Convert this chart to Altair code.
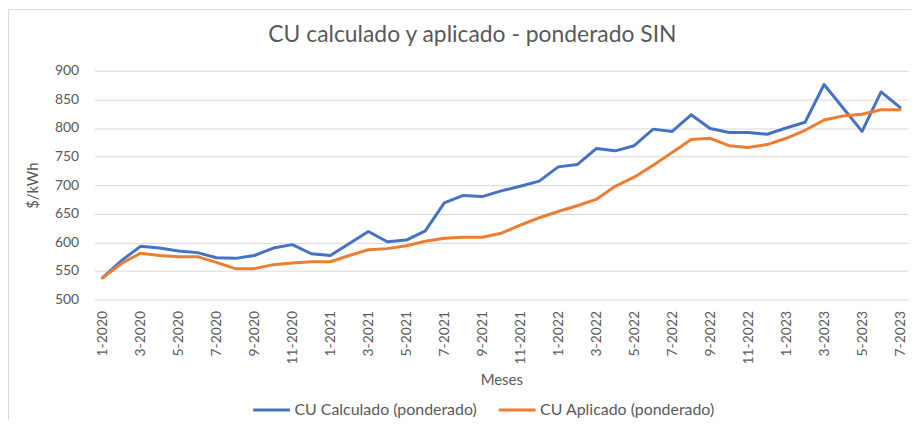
import altair as alt
import pandas as pd

meses = [
    "1-2020", "2-2020", "3-2020", "4-2020", "5-2020", "6-2020", "7-2020", "8-2020", "9-2020", "10-2020", "11-2020", "12-2020",
    "1-2021", "2-2021", "3-2021", "4-2021", "5-2021", "6-2021", "7-2021", "8-2021", "9-2021", "10-2021", "11-2021", "12-2021",
    "1-2022", "2-2022", "3-2022", "4-2022", "5-2022", "6-2022", "7-2022", "8-2022", "9-2022", "10-2022", "11-2022", "12-2022",
    "1-2023", "2-2023", "3-2023", "4-2023", "5-2023", "6-2023", "7-2023",
]

cu_calculado = [
    538, 568, 593, 590, 585, 582, 573, 572, 577, 590, 596, 580,
    577, 598, 619, 601, 604, 620, 669, 682, 680, 690, 698, 707,
    732, 736, 764, 760, 769, 798, 794, 823, 799, 792, 792, 789,
    800, 810, 876, 835, 794, 863, 836,
]

cu_aplicado = [
    538, 563, 581, 577, 575, 575, 565, 554, 554, 561, 564, 566,
    566, 577, 587, 589, 594, 602, 607, 609, 609, 616, 630, 643,
    654, 664, 675, 698, 714, 735, 757, 780, 782, 769, 766, 771,
    782, 796, 814, 821, 824, 832, 832,
]

series = ["CU Calculado (ponderado)", "CU Aplicado (ponderado)"]
colores = ["#4472C4", "#ED7D31"]
y_ticks = [500, 550, 600, 650, 700, 750, 800, 850, 900]

df = pd.DataFrame(
    {
        "mes": meses * 2,
        "valor": cu_calculado + cu_aplicado,
        "serie": [series[0]] * len(meses) + [series[1]] * len(meses),
        "orden": list(range(len(meses))) * 2,
    }
)

GRAY = "#595959"
GRID = "#d9d9d9"

border = alt.Chart(alt.Data(values=[{}])).mark_rect(
    fill="transparent", stroke=GRID, strokeWidth=1
).encode(
    x=alt.value(-86.5), x2=alt.value(900), y=alt.value(-61.5), y2=alt.value(500)
)

lines = alt.Chart(df).mark_line(strokeWidth=3, strokeJoin="round", strokeCap="round").encode(
    x=alt.X(
        "mes:O",
        sort=meses,
        scale=alt.Scale(type="point", padding=0.42),
        axis=alt.Axis(
            values=meses[::2],
            labelAngle=-90,
            labelPadding=11,
            labelFontSize=14,
            labelColor=GRAY,
            ticks=False,
            domain=False,
            grid=False,
            title="Meses",
            titleFontSize=15,
            titleFontWeight="normal",
            titleColor=GRAY,
            titlePadding=9,
        ),
    ),
    y=alt.Y(
        "valor:Q",
        scale=alt.Scale(domain=[500, 900], nice=False, zero=False),
        axis=alt.Axis(
            values=y_ticks,
            labelFontSize=14,
            labelColor=GRAY,
            labelPadding=16,
            ticks=False,
            domain=False,
            grid=True,
            gridColor=GRID,
            gridWidth=1,
            title="$/kWh",
            titleFontSize=15,
            titleFontWeight="normal",
            titleColor=GRAY,
            titlePadding=14,
        ),
    ),
    color=alt.Color(
        "serie:N",
        sort=series,
        scale=alt.Scale(domain=series, range=colores),
        legend=alt.Legend(
            orient="none",
            legendX=158,
            legendY=321,
            direction="horizontal",
            title=None,
            symbolType="stroke",
            symbolSize=1369,
            symbolStrokeWidth=3,
            labelFontSize=16,
            labelColor=GRAY,
            labelOffset=3,
            labelLimit=400,
            columnPadding=15,
        ),
    ),
    order=alt.Order("orden:Q"),
)

chart = (
    alt.layer(border, lines)
    .properties(
        width=818,
        height=230,
        autosize=alt.AutoSizeParams(type="none"),
        padding={"left": 87, "top": 62, "right": 3, "bottom": 120},
        title=alt.TitleParams(
            "CU calculado y aplicado - ponderado SIN",
            fontSize=23,
            fontWeight="normal",
            color=GRAY,
            anchor="middle",
            dx=-29,
            dy=56,
            offset=0,
            baseline="alphabetic",
        ),
    )
    .configure(font="Lato")
    .configure_view(stroke=None)
)

chart.save("out.html", embed_options={"renderer": "svg", "actions": False})
